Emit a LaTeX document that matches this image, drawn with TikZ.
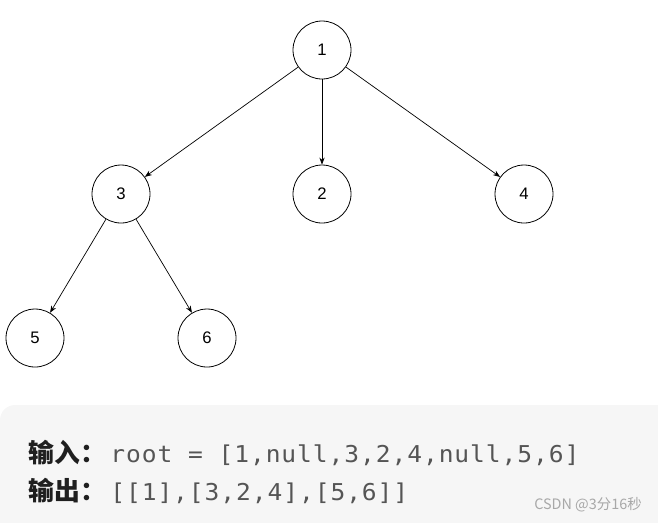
\documentclass[tikz,border=0pt]{standalone}
\usepackage{fontspec}
\setmainfont{Liberation Sans}
\newfontfamily\cjk{Noto Sans CJK SC}
\newfontfamily\codefont{DejaVu Sans Mono}[FakeStretch=1.06, LetterSpace=4]
\usetikzlibrary{arrows.meta}

\definecolor{codebg}{HTML}{F6F6F6}
\definecolor{codetext}{HTML}{555555}
\definecolor{marktext}{HTML}{A8A8A8}

\tikzset{
  treenode/.style={circle, draw, line width=0.45pt, minimum size=1.16cm,
    inner sep=0pt, font=\fontsize{9.5}{11}\selectfont},
  child/.style={-{Stealth[length=4pt,width=3pt]}, line width=0.4pt},
  label/.style={anchor=base west, inner sep=0pt,
    font=\cjk\bfseries\fontsize{14.7}{17}\selectfont, text=black!88},
  code/.style={anchor=base west, inner sep=0pt,
    font=\codefont\fontsize{13.2}{16}\selectfont, text=codetext},
}

\begin{document}
\begin{tikzpicture}[x=0.02cm,y=-0.02cm]
\useasboundingbox (0,0) rectangle (658,522);

% tree
\node[treenode] (n1) at (322,50) {1};
\node[treenode] (n3) at (121,194) {3};
\node[treenode] (n2) at (322,194) {2};
\node[treenode] (n4) at (524,194) {4};
\node[treenode] (n5) at (35,338) {5};
\node[treenode] (n6) at (207,338) {6};

\draw[child] (n1) -- (n3);
\draw[child] (n1) -- (n2);
\draw[child] (n1) -- (n4);
\draw[child] (n3) -- (n5);
\draw[child] (n3) -- (n6);

% example box
\begin{scope}
  \clip (0,0) rectangle (658,522);
  \fill[codebg, rounded corners=0.3cm] (0,405) rectangle (700,570);
\end{scope}
\node[label] (inlabel) at (28,462) {输入：};
\node[code] (incode) at (110,462) {root = [1,null,3,2,4,null,5,6]};
\node[label] (outlabel) at (28,500) {输出：};
\node[code] (outcode) at (110,500) {[[1],[3,2,4],[5,6]]};
\node[anchor=base east, inner sep=0pt, text=marktext,
  font=\cjk\fontsize{8.2}{10}\selectfont] (mark) at (642,509) {CSDN @3分16秒};
\end{tikzpicture}
\end{document}
